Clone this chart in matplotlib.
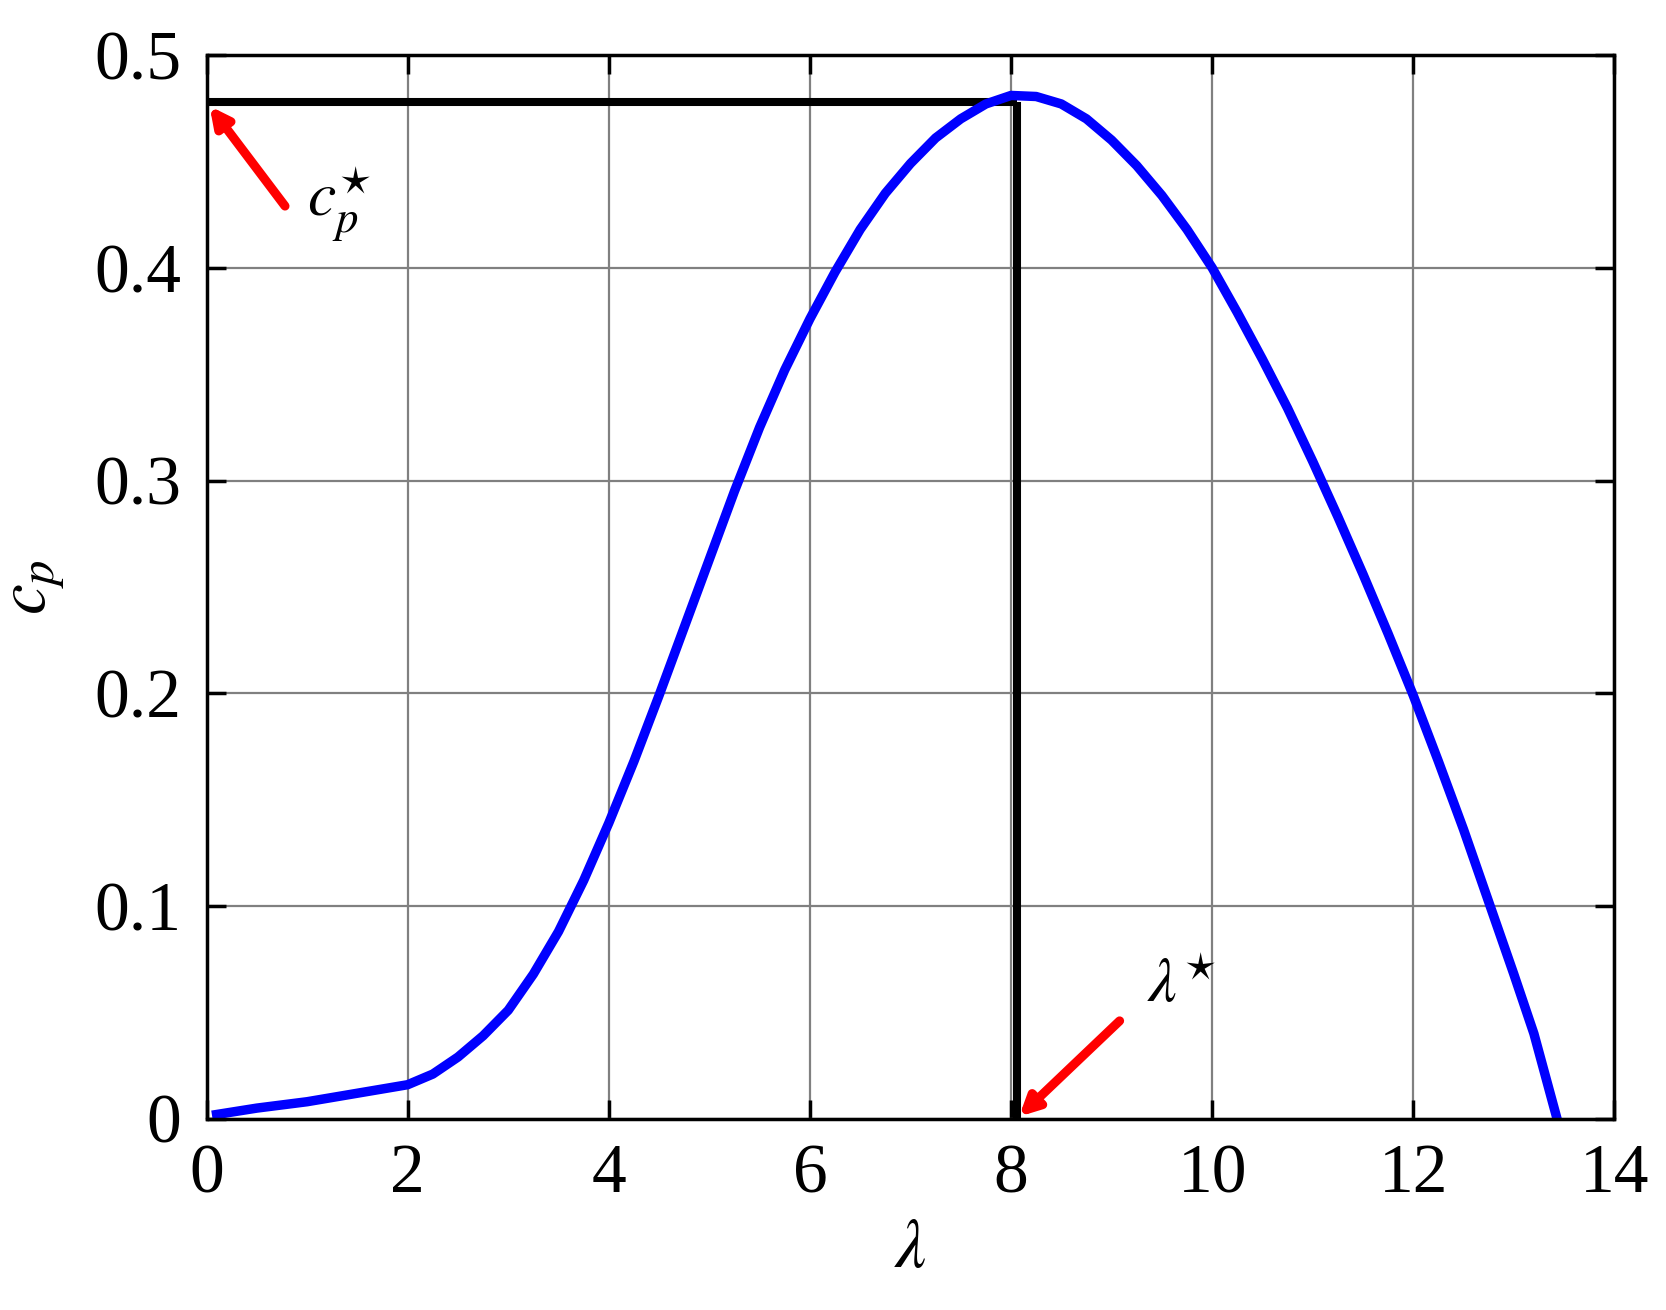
import matplotlib
matplotlib.use("Agg")
from matplotlib import pyplot as plt

# power coefficient curve
lam = [0.1, 0.5, 1.0, 1.5, 2.0, 2.25, 2.5, 2.75, 3.0, 3.25, 3.5, 3.75, 4.0,
       4.25, 4.5, 4.75, 5.0, 5.25, 5.5, 5.75, 6.0, 6.25, 6.5, 6.75, 7.0, 7.25,
       7.5, 7.75, 8.0, 8.25, 8.5, 8.75, 9.0, 9.25, 9.5, 9.75, 10.0, 10.25,
       10.5, 10.75, 11.0, 11.25, 11.5, 11.75, 12.0, 12.25, 12.5, 12.75, 13.0,
       13.2, 13.43]
cp = [0.002, 0.005, 0.008, 0.012, 0.016, 0.021, 0.029, 0.039, 0.051, 0.068,
      0.088, 0.112, 0.139, 0.168, 0.199, 0.231, 0.263, 0.295, 0.325, 0.352,
      0.376, 0.398, 0.418, 0.435, 0.449, 0.461, 0.470, 0.477, 0.481, 0.4805,
      0.477, 0.470, 0.460, 0.448, 0.434, 0.418, 0.400, 0.379, 0.357, 0.334,
      0.309, 0.283, 0.256, 0.228, 0.199, 0.168, 0.136, 0.102, 0.068, 0.040,
      0.0]

lam_star = 8.06
cp_star = 0.478

xticks = [0, 2, 4, 6, 8, 10, 12, 14]
yticks = [0, 0.1, 0.2, 0.3, 0.4, 0.5]
yticklabels = ["0", "0.1", "0.2", "0.3", "0.4", "0.5"]

plt.rcParams["font.family"] = "Liberation Serif"
plt.rcParams["mathtext.fontset"] = "stix"

fig = plt.figure(figsize=(16.66, 13.1), dpi=100)
ax = fig.add_axes([0.124, 0.146, 0.845, 0.812])

ax.grid(True, color="#808080", linewidth=1.6)
ax.set_axisbelow(True)

ax.plot([0, lam_star], [cp_star, cp_star], color="black", lw=5.8, solid_capstyle="butt")
ax.plot([lam_star, lam_star], [0, cp_star], color="black", lw=5.8, solid_capstyle="butt")
ax.plot(lam, cp, color="#0000ff", lw=6.8, solid_joinstyle="round")

arrow = dict(arrowstyle="-|>,head_length=1.1,head_width=0.55", color="red", lw=6.5,
             shrinkA=0, shrinkB=0)
ax.annotate("", xy=(0.03, cp_star - 0.002), xytext=(0.78, 0.429), arrowprops=arrow)
ax.annotate("", xy=(lam_star + 0.02, 0.001), xytext=(9.08, 0.046), arrowprops=arrow)
ax.text(1.0, 0.43, r"$c_p^{\star}$", fontsize=46, va="center", ha="left")
ax.text(9.35, 0.062, r"$\lambda^{\star}$", fontsize=46, va="center", ha="left")

ax.set_xlim(0, 14)
ax.set_ylim(0, 0.5)
ax.set_xticks(xticks)
ax.set_yticks(yticks)
ax.set_yticklabels(yticklabels)
ax.tick_params(direction="in", length=14, width=2.5, labelsize=50, pad=18,
               top=True, right=True)
for s in ax.spines.values():
    s.set_linewidth(2.5)

ax.set_xlabel(r"$\lambda$", fontsize=50, labelpad=8)
ax.set_ylabel(r"$c_p$", fontsize=50, labelpad=20)

fig.savefig("out.png", dpi=100)
